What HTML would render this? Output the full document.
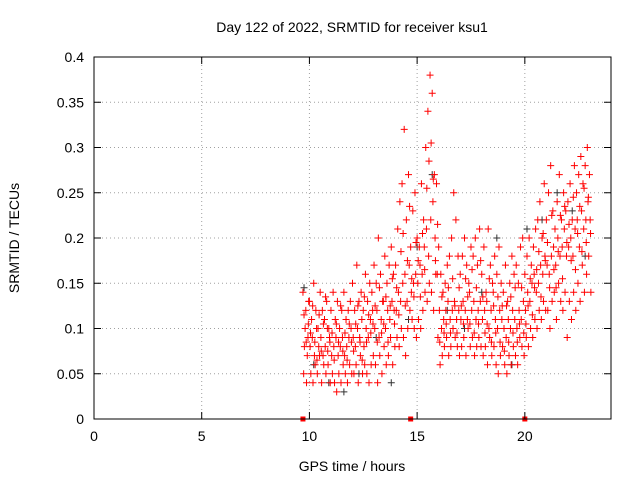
<!DOCTYPE html>
<html><head><meta charset="utf-8"><style>
html,body{margin:0;padding:0;background:#fff}
svg{display:block;font-family:"Liberation Sans",sans-serif}
</style></head><body>
<svg id="chart" width="640" height="480">
<rect width="640" height="480" fill="#fff"/>
<g id="grid"></g>
<g id="marks"></g>
<g id="axes"></g>
<text x="352" y="32" text-anchor="middle" font-size="14">Day 122 of 2022, SRMTID for receiver ksu1</text>
<text x="352" y="471" text-anchor="middle" font-size="14">GPS time / hours</text>
<text x="19" y="238" text-anchor="middle" font-size="14" transform="rotate(-90 19 238)">SRMTID / TECUs</text>
</svg>
<script>
const xTicks=[0,5,10,15,20];
const yTicks=[0,0.05,0.1,0.15,0.2,0.25,0.3,0.35,0.4];
const yTickLabels=["0","0.05","0.1","0.15","0.2","0.25","0.3","0.35","0.4"];
const gapMarkers=[9.7,14.7,20.0];
const hours=[9.7,9.8,9.9,
10,10.1,10.2,10.3,10.4,10.5,10.6,10.7,10.8,10.9,11,11.1,11.2,11.3,11.4,11.5,11.6,11.7,11.8,11.9,
12,12.1,12.2,12.3,12.4,12.5,12.6,12.7,12.8,12.9,13,13.1,13.2,13.3,13.4,13.5,13.6,13.7,13.8,13.9,
14,14.1,14.2,14.3,14.4,14.5,14.6,14.7,14.8,14.9,15,15.1,15.2,15.3,15.4,15.5,15.6,15.7,15.8,15.9,
16,16.1,16.2,16.3,16.4,16.5,16.6,16.7,16.8,16.9,17,17.1,17.2,17.3,17.4,17.5,17.6,17.7,17.8,17.9,
18,18.1,18.2,18.3,18.4,18.5,18.6,18.7,18.8,18.9,19,19.1,19.2,19.3,19.4,19.5,19.6,19.7,19.8,19.9,
20,20.1,20.2,20.3,20.4,20.5,20.6,20.7,20.8,20.9,21,21.1,21.2,21.3,21.4,21.5,21.6,21.7,21.8,21.9,
22,22.1,22.2,22.3,22.4,22.5,22.6,22.7,22.8,22.9,23];
const upperValues=[.14,.10,.07,
.13,.11,.15,.12,.10,.14,.12,.11,.13,.10, .12,.14,.11,.13,.10,.12,.14,.11,.12,.13,
.15,.12,.17,.13,.14,.12,.16,.13,.15,.14, .17,.15,.20,.16,.13,.18,.15,.17,.19,.16,
.17,.21,.24,.26,.32,.22,.27,.19,.23,.25, .20,.19,.26,.22,.30,.34,.38,.36,.27,.26,
.19,.16,.14,.15,.17,.18,.20,.25,.22,.18, .16,.18,.20,.17,.15,.19,.18,.20,.17,.21,
.16,.19,.14,.21,.17,.15,.18,.16,.19,.15, .14,.17,.13,.15,.18,.16,.17,.15,.19,.20,
.16,.18,.20,.17,.19,.21,.22,.24,.20,.26, .22,.25,.28,.23,.21,.24,.27,.22,.25,.23,
.24,.26,.22,.28,.25,.27,.29,.26,.28,.30,.27];
const middleValues=[.05,.12,.09,
.08,.09,.07,.10,.08,.09,.07,.08,.10,.09, .07,.08,.09,.07,.08,.09,.07,.08,.09,.10,
.09,.08,.10,.09,.11,.08,.10,.09,.11,.12, .10,.12,.09,.11,.13,.10,.12,.11,.13,.12,
.12,.14,.13,.15,.16,.13,.17,.14,.15,.16, .15,.17,.16,.19,.21,.18,.22,.24,.20,.16,
.12,.10,.11,.12,.13,.11,.12,.13,.11,.12, .11,.13,.12,.11,.14,.12,.13,.11,.12,.13,
.11,.12,.13,.10,.12,.14,.11,.10,.12,.11, .10,.09,.11,.10,.12,.11,.10,.12,.11,.13,
.12,.14,.13,.15,.16,.14,.15,.17,.16,.18, .17,.16,.18,.19,.17,.20,.18,.19,.21,.18,
.19,.20,.18,.21,.22,.19,.23,.21,.22,.24,.22];
const lowerValues=[.08,.04,.13,
.05,.04,.06,.05,.07,.04,.06,.05,.06,.04, .05,.04,.03,.05,.04,.06,.05,.04,.06,.05,
.05,.06,.04,.07,.05,.06,.05,.04,.06,.07, .06,.04,.07,.05,.08,.06,.07,.09,.06,.08,
.09,.08,.10,.09,.07,.10,.12,.11,.10,.09, .11,.10,.12,.14,.13,.15,.14,.12,.16,.09,
.06,.07,.08,.09,.07,.08,.10,.09,.08,.07, .08,.09,.07,.10,.08,.09,.07,.08,.09,.08,
.07,.08,.06,.09,.07,.08,.06,.05,.07,.08, .06,.05,.07,.06,.08,.07,.06,.09,.08,.07,
.09,.08,.10,.09,.11,.10,.12,.11,.13,.12, .12,.10,.13,.14,.11,.15,.13,.12,.14,.09,
.13,.11,.14,.12,.15,.13,.17,.14,.16,.18,.14];
const extraValues=[.115,.085,.105,
.095,.125,.085,.065,.115,.075,.105,.135,.075,.085, .095,.065,.105,.085,.125,.075,.095,.065,.105,.085,
.075,.105,.125,.085,.065,.135,.085,.115,.095,.105, .125,.085,.145,.095,.105,.135,.085,.125,.155,.105,
.145,.115,.185,.205,.125,.175,.235,.155,.135,.195, .175,.135,.205,.165,.255,.285,.305,.265,.175,.215,
.085,.135,.095,.105,.145,.095,.155,.125,.095,.145, .125,.105,.155,.135,.105,.165,.095,.145,.105,.175,
.135,.095,.105,.155,.085,.125,.095,.135,.085,.125, .075,.125,.085,.135,.095,.145,.085,.105,.145,.095,
.105,.125,.155,.115,.145,.165,.185,.135,.205,.175, .195,.145,.225,.165,.145,.185,.225,.155,.235,.195,
.215,.175,.245,.165,.205,.235,.185,.255,.195,.245,.205];
const blackHours=[9.75,10.2,10.9,11.6,12.3,13.1,13.8,14.6,15.0,15.7,16.4,17.2,18.0,18.7,19.4,20.1,20.8,21.5,22.2,22.8];
const blackValues=[.145,.06,.04,.03,.05,.09,.04,.11,.19,.27,.12,.10,.14,.20,.06,.21,.22,.25,.23,.18];

const NS="http://www.w3.org/2000/svg";
const L=94,R=611,T=57,B=419;
const xs=h=>L+(h/24)*(R-L);
const ys=v=>B-(v/0.4)*(B-T);
function mk(tag,attrs,parent){const e=document.createElementNS(NS,tag);for(const k in attrs)e.setAttribute(k,attrs[k]);parent.appendChild(e);return e;}
const grid=document.getElementById('grid'),axes=document.getElementById('axes'),marks=document.getElementById('marks');
xTicks.forEach((t,i)=>{
  const x=xs(t);
  if(t>0){const g=mk('line',{x1:x,x2:x,y1:T,y2:B,stroke:'#a0a0a0','stroke-dasharray':'1,3'},grid);
  
  }
  const tk=mk('path',{d:`M${x},${B}v-7M${x},${T}v7`,stroke:'#000'},axes);
  
  
  const lb=mk('text',{x:x,y:B+22,'text-anchor':'middle','font-size':14},axes);lb.textContent=String(t);
  
  
});
yTicks.forEach((t,i)=>{
  const y=ys(t);
  if(t>0&&t<0.4){const g=mk('line',{x1:L,x2:R,y1:y,y2:y,stroke:'#a0a0a0','stroke-dasharray':'1,3'},grid);
  
  }
  const tk=mk('path',{d:`M${L},${y}h7M${R},${y}h-7`,stroke:'#000'},axes);
  
  
  const lb=mk('text',{x:L-10,y:y+5,'text-anchor':'end','font-size':14},axes);lb.textContent=yTickLabels[i];
  
  
});
const frame=mk('rect',{x:L,y:T,width:R-L,height:B-T,fill:'none',stroke:'#000'},axes);


function plus(h,v,color){
  const x=xs(h),y=ys(v);
  const p=mk('path',{d:`M${x-3.5},${y}h7M${x},${y-3.5}v7`,stroke:color,'stroke-width':1},marks);
  return p;
}
blackHours.forEach((h,i)=>{const p=plus(h,blackValues[i],'#333');
  
  });
[[upperValues,0],[middleValues,0.033],[lowerValues,0.066],[extraValues,0.05]].forEach(([vals,off])=>{
  hours.forEach((h,i)=>{const p=plus(h+off,vals[i],'#ff0000');
    
    });
});
gapMarkers.forEach(h=>{const r=mk('rect',{x:xs(h)-2.5,y:B-2.5,width:5,height:5,fill:'#ff0000'},marks);
  
  });
</script>
</body></html>
